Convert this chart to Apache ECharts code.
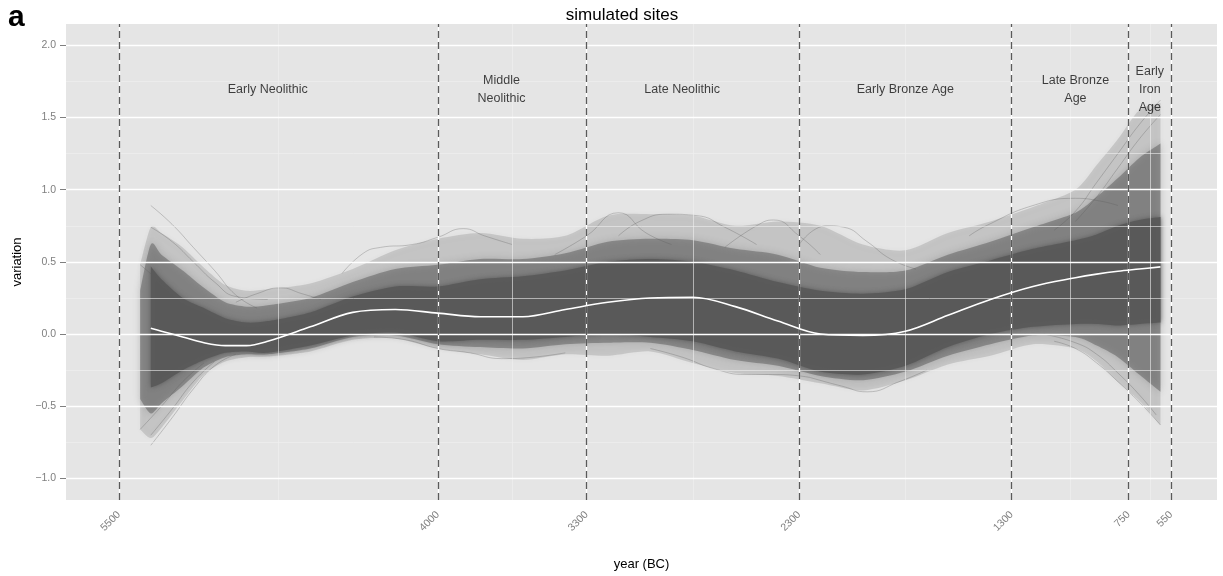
<!DOCTYPE html>
<html>
<head>
<meta charset="utf-8">
<script src="https://cdn.jsdelivr.net/npm/echarts@6/dist/echarts.min.js"></script>
<style>
html, body { margin: 0; padding: 0; background: #fff; }
#chart { width: 1223px; height: 576px; }
</style>
</head>
<body>
<div id="chart"></div>
<script>
// 年份 (BC)，所有包络带共用
const years = [5400, 5350, 5300, 5200, 5100, 5000, 4900, 4800, 4600, 4400, 4200, 4000, 3800, 3600, 3400, 3200, 3000, 2800, 2600, 2400, 2200, 2000, 1800, 1600, 1400, 1200, 1000, 900, 800, 700, 600];
// 平均曲线（白线）
const meanLine = ['-', 0.04, 0.02, -0.02, -0.06, -0.08, -0.08, -0.05, 0.05, 0.15, 0.17, 0.145, 0.12, 0.12, 0.17, 0.22, 0.25, 0.255, 0.19, 0.09, 0.00, -0.01, 0.02, 0.13, 0.24, 0.33, 0.39, 0.415, 0.435, 0.45, 0.465];
// 模拟曲线的外包络
const outerMax = [0.48, 0.74, 0.70, 0.60, 0.46, 0.34, 0.30, 0.31, 0.35, 0.45, 0.58, 0.66, 0.70, 0.66, 0.68, 0.82, 0.83, 0.82, 0.75, 0.78, 0.75, 0.62, 0.58, 0.70, 0.78, 0.88, 1.00, 1.17, 1.35, 1.55, 1.60];
const outerMin = [-0.66, -0.72, -0.65, -0.46, -0.28, -0.19, -0.16, -0.155, -0.12, -0.04, -0.03, -0.10, -0.14, -0.18, -0.14, -0.15, -0.12, -0.20, -0.27, -0.29, -0.34, -0.39, -0.32, -0.21, -0.15, -0.07, -0.10, -0.19, -0.33, -0.46, -0.63];
// 中等密度区
const midMax = [0.30, 0.62, 0.55, 0.44, 0.32, 0.22, 0.19, 0.20, 0.25, 0.36, 0.45, 0.48, 0.52, 0.52, 0.56, 0.64, 0.66, 0.65, 0.59, 0.55, 0.46, 0.43, 0.44, 0.55, 0.64, 0.74, 0.84, 0.95, 1.08, 1.22, 1.32];
const midMin = [-0.45, -0.55, -0.48, -0.36, -0.23, -0.16, -0.14, -0.14, -0.10, -0.02, -0.01, -0.07, -0.09, -0.10, -0.07, -0.06, -0.06, -0.11, -0.18, -0.22, -0.29, -0.32, -0.26, -0.15, -0.07, -0.01, -0.02, -0.08, -0.16, -0.28, -0.40];
// 深色核心区
const coreMax = ['-', 0.47, 0.38, 0.25, 0.18, 0.11, 0.08, 0.09, 0.15, 0.26, 0.33, 0.33, 0.38, 0.40, 0.44, 0.50, 0.52, 0.50, 0.44, 0.36, 0.30, 0.28, 0.31, 0.43, 0.51, 0.59, 0.65, 0.69, 0.75, 0.79, 0.81];
const coreMin = ['-', -0.37, -0.34, -0.25, -0.18, -0.13, -0.12, -0.13, -0.08, -0.01, 0.01, -0.05, -0.04, -0.04, -0.02, 0.00, -0.02, -0.05, -0.12, -0.17, -0.26, -0.28, -0.22, -0.09, 0.00, 0.05, 0.07, 0.07, 0.06, 0.07, 0.08];

// 单独可见的离群曲线 [year, value]
const startTop = [[5350, 0.89], [5250, 0.76], [5150, 0.60], [5050, 0.44], [4950, 0.27], [4850, 0.18]];
const startTop2 = [[5400, 0.48], [5300, 0.35], [5200, 0.20], [5100, 0.08]];
const startTop3 = [[5350, 0.74], [5250, 0.64], [5150, 0.50], [5050, 0.36], [4950, 0.26], [4800, 0.24]];
const startLow = [[5350, -0.77], [5250, -0.58], [5150, -0.38], [5050, -0.22], [4950, -0.14]];
const startLow2 = [[5350, -0.70], [5250, -0.52], [5150, -0.33], [5050, -0.19]];
const startLow3 = [[5400, -0.66], [5300, -0.50], [5200, -0.33], [5100, -0.20]];
const bump4700 = [[4950, 0.22], [4850, 0.28], [4740, 0.32], [4640, 0.28], [4550, 0.24]];
const riseNeo = [[4450, 0.42], [4350, 0.56], [4270, 0.60], [4120, 0.62], [4000, 0.67], [3880, 0.73], [3780, 0.68], [3650, 0.62]];
const lowNeo = [[4300, -0.02], [4150, -0.04], [4000, -0.10], [3850, -0.13], [3700, -0.17], [3550, -0.16], [3400, -0.13]];
const peak3150 = [[3450, 0.55], [3300, 0.68], [3150, 0.84], [3020, 0.70], [2900, 0.62]];
const peak2900 = [[3150, 0.68], [3050, 0.78], [2920, 0.83], [2780, 0.82], [2650, 0.74], [2500, 0.62]];
const peak2450 = [[2650, 0.60], [2500, 0.75], [2420, 0.79], [2300, 0.68], [2200, 0.55]];
const low2700 = [[3000, -0.10], [2850, -0.16], [2700, -0.24], [2550, -0.28], [2400, -0.28], [2250, -0.30]];
const hump2150 = [[2300, 0.62], [2170, 0.75], [2090, 0.74], [1980, 0.64], [1870, 0.52], [1750, 0.45]];
const dip2000 = [[2250, -0.30], [2100, -0.36], [1980, -0.40], [1830, -0.33], [1700, -0.25]];
const arc1000 = [[1500, 0.68], [1420, 0.75], [1200, 0.89], [1000, 0.94], [880, 0.92], [800, 0.89]];
const endTop = [[1100, 0.72], [1000, 0.85], [900, 1.05], [800, 1.25], [700, 1.45], [600, 1.62]];
const endTop2 = [[1000, 0.78], [900, 0.95], [800, 1.15], [700, 1.35], [600, 1.52]];
const endLow = [[1100, -0.05], [1000, -0.10], [900, -0.20], [800, -0.33], [700, -0.47], [600, -0.63]];
const endLow2 = [[1150, 0.00], [1000, -0.06], [900, -0.14], [800, -0.27], [700, -0.42], [620, -0.56]];
const strands = [startTop, startTop2, startTop3, startLow, startLow2, startLow3, bump4700, riseNeo, lowNeo, peak3150, peak2900, peak2450, low2700, hump2150, dip2000, arc1000, endTop, endTop2, endLow, endLow2];

// 坐标轴刻度
const xTicks = [5500, 4000, 3300, 2300, 1300, 750, 550];
const xMinor = [4750, 3650, 2800, 1800, 1025, 650];
const yTicks = [-1, -0.5, 0, 0.5, 1, 1.5, 2];
const yMinor = [-0.75, -0.25, 0.25, 0.75, 1.25, 1.75];

// 时期标注
const periodNames = ['Early Neolithic', 'Middle\nNeolithic', 'Late Neolithic', 'Early Bronze Age', 'Late Bronze\nAge', 'Early\nIron\nAge'];
const periodYears = [4800, 3700, 2850, 1800, 1000, 650];
const periodY = 1.69;

const FONT = '"Liberation Sans", Arial, sans-serif';
const chart = echarts.init(document.getElementById('chart'));

// Catmull-Rom 转贝塞尔，只用于把像素点连成平滑路径
function smoothPath(pts, start) {
  let d = (start ? 'M' : 'L') + pts[0][0] + ' ' + pts[0][1];
  const k = 0.8 / 6;
  for (let i = 0; i < pts.length - 1; i++) {
    const p0 = pts[i - 1] || pts[i];
    const p1 = pts[i];
    const p2 = pts[i + 1];
    const p3 = pts[i + 2] || p2;
    const c1x = p1[0] + (p2[0] - p0[0]) * k, c1y = p1[1] + (p2[1] - p0[1]) * k;
    const c2x = p2[0] - (p3[0] - p1[0]) * k, c2y = p2[1] - (p3[1] - p1[1]) * k;
    d += ' C' + c1x + ' ' + c1y + ' ' + c2x + ' ' + c2y + ' ' + p2[0] + ' ' + p2[1];
  }
  return d;
}

// 上下包络之间的带，用 custom series 按坐标轴换算
function band(lower, upper, color, blur) {
  return {
    type: 'custom', silent: true, z: 2, clip: true,
    data: [[years[0], 0]],
    renderItem: function (params, api) {
      const top = [], bottom = [];
      years.forEach((y, i) => {
        if (upper[i] === '-' || lower[i] === '-') return;
        top.push(api.coord([y, upper[i]]));
        bottom.push(api.coord([y, lower[i]]));
      });
      const d = smoothPath(top, true) + ' ' + smoothPath(bottom.reverse(), false) + ' Z';
      return {
        type: 'path',
        shape: { pathData: d },
        style: { fill: color, stroke: null, shadowBlur: blur, shadowColor: color }
      };
    }
  };
}

const series = [];

// 网格线
series.push({
  type: 'line', data: [], silent: true, z: 1,
  markLine: {
    silent: true, symbol: ['none', 'none'], label: { show: false }, animation: false,
    data: [].concat(
      yMinor.map(v => ({ yAxis: v, lineStyle: { color: '#f0f0f0', width: 0.6, type: 'solid' } })),
      xMinor.map(v => ({ xAxis: v, lineStyle: { color: '#f0f0f0', width: 0.6, type: 'solid' } })),
      yTicks.map(v => ({ yAxis: v, lineStyle: { color: '#ffffff', width: 1.3, type: 'solid' } })),
      xTicks.map(v => ({ xAxis: v, lineStyle: { color: '#ffffff', width: 1.3, type: 'solid' } }))
    )
  }
});

series.push(band(outerMin, outerMax, 'rgba(89,89,89,0.2)', 5));
series.push(band(midMin, midMax, 'rgba(89,89,89,0.5)', 7));
series.push(band(coreMin, coreMax, 'rgba(89,89,89,0.96)', 5));

strands.forEach(s => {
  series.push({
    type: 'line', data: s, smooth: 0.5, symbol: 'none', silent: true, z: 3,
    lineStyle: { color: 'rgba(89,89,89,0.3)', width: 1 }
  });
});

// 时期分界虚线
series.push({
  type: 'line', data: [], silent: true, z: 4,
  markLine: {
    silent: true, symbol: ['none', 'none'], label: { show: false }, animation: false,
    lineStyle: { color: '#5a5a5a', width: 1.3, type: [7, 4] },
    data: xTicks.map(v => ({ xAxis: v }))
  }
});

series.push({
  type: 'line', data: years.map((y, i) => [y, meanLine[i]]), smooth: 0.35,
  symbol: 'none', silent: true, z: 5,
  lineStyle: { color: '#ffffff', width: 1.6 }
});

series.push({
  type: 'scatter', silent: true, z: 6, symbolSize: 0,
  data: periodYears.map((y, i) => ({ value: [y, periodY], name: periodNames[i] })),
  label: {
    show: true, position: 'inside', formatter: '{b}',
    color: '#111', fontSize: 12.5, lineHeight: 18, fontFamily: FONT
  }
});

chart.setOption({
  animation: false,
  backgroundColor: '#ffffff',
  title: {
    text: 'simulated sites', left: 617, top: 2, textAlign: 'center',
    textStyle: { fontSize: 17, fontWeight: 'normal', color: '#000', fontFamily: FONT }
  },
  graphic: [{
    type: 'text', left: 8, top: 3,
    style: { text: 'a', fill: '#000', font: 'bold 30px ' + FONT }
  }],
  grid: { left: 66, right: 6, top: 24, bottom: 73, show: true, backgroundColor: '#e5e5e5', borderWidth: 0 },
  xAxis: {
    type: 'value', inverse: true, min: 334, max: 5749,
    name: 'year (BC)', nameLocation: 'middle', nameGap: 58,
    nameTextStyle: { fontSize: 13, color: '#000', fontFamily: FONT },
    axisLine: { show: false },
    splitLine: { show: false },
    axisTick: { show: true, length: 6, customValues: xTicks, lineStyle: { color: '#7f7f7f', width: 1 } },
    axisLabel: {
      customValues: xTicks, rotate: 45, margin: 13, color: '#7f7f7f', fontSize: 10.5, fontFamily: FONT,
      formatter: v => String(v)
    }
  },
  yAxis: {
    type: 'value', min: -1.149, max: 2.147,
    name: 'variation', nameLocation: 'middle', nameGap: 41,
    nameTextStyle: { fontSize: 13, color: '#000', fontFamily: FONT },
    axisLine: { show: false },
    splitLine: { show: false },
    axisTick: { show: true, length: 6, customValues: yTicks, lineStyle: { color: '#7f7f7f', width: 1 } },
    axisLabel: {
      customValues: yTicks, margin: 10, color: '#7f7f7f', fontSize: 10.5, fontFamily: FONT,
      formatter: v => (v < 0 ? '\u2212' : '') + Math.abs(v).toFixed(1)
    }
  },
  series: series
});
</script>
</body>
</html>
